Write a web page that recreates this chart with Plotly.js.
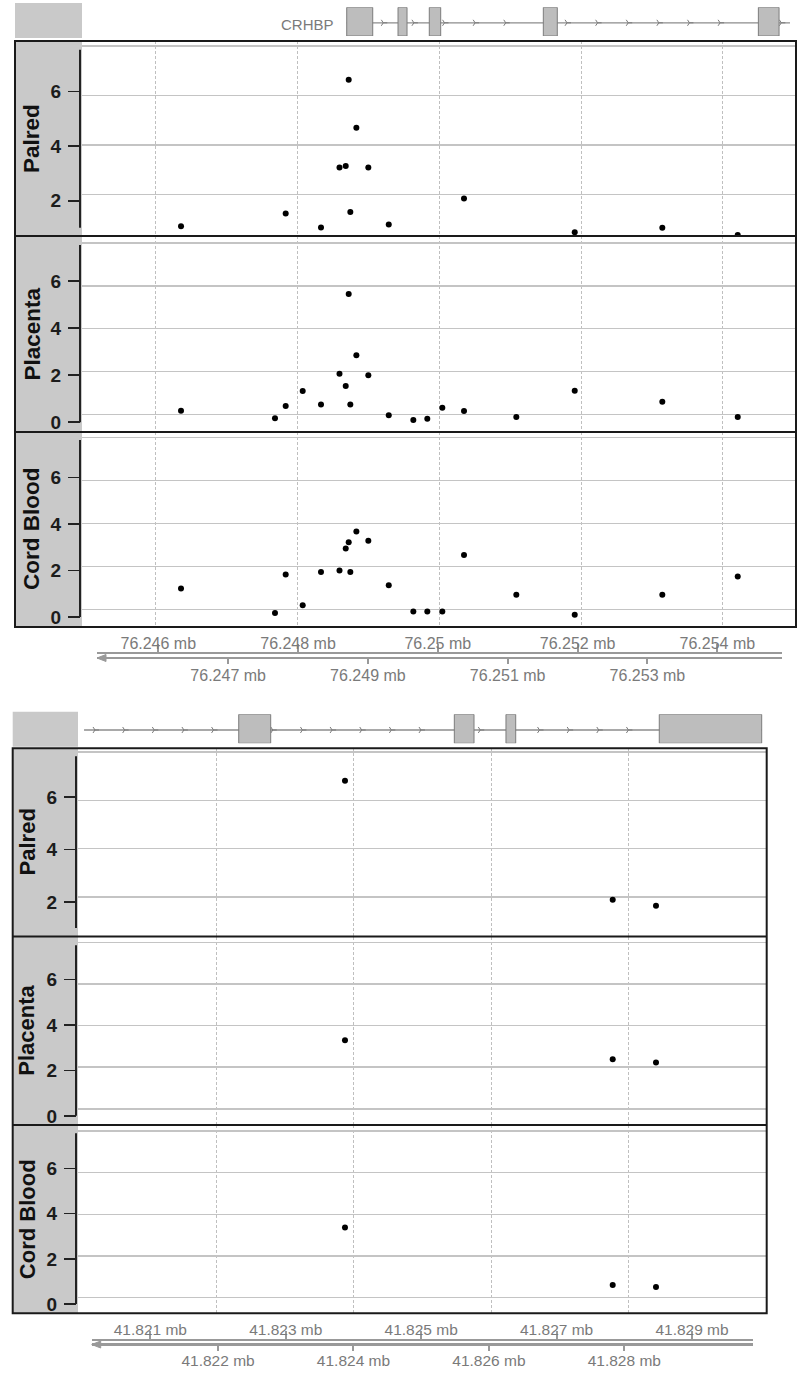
<!DOCTYPE html>
<html><head><meta charset="utf-8">
<script src="https://cdn.plot.ly/plotly-3.0.1.min.js"></script>
<style>html,body{margin:0;padding:0;background:#fff}#chart{width:800px;height:1384px}</style>
</head><body><div id="chart"></div>
<script>
// ---------------- DATA ----------------
const trackNames = ['Palred', 'Placenta', 'Cord Blood'];
const yTickVals = [0, 2, 4, 6];

// Region 1 (CRHBP, ~76.25 mb) — CpG positions (bp) and values
const geneName1 = 'CRHBP';
const cpgPos1 = [76246354, 76247680, 76247831, 76248071, 76248329, 76248590, 76248678, 76248720, 76248743, 76248828,
                 76248997, 76249285, 76249632, 76249829, 76250041, 76250347, 76251085, 76251909, 76253145, 76254209];
const palred1    = [1.07, null, 1.53, null, 1.02, 3.22, 3.27, 6.43, 1.59, 4.67,
                    3.22, 1.13, null, null, null, 2.08, null, 0.85, 1.01, 0.75];
const placenta1  = [0.49, 0.17, 0.69, 1.33, 0.76, 2.06, 1.54, 5.45, 0.76, 2.85,
                    2.00, 0.30, 0.10, 0.15, 0.62, 0.48, 0.23, 1.34, 0.87, 0.23];
const cordBlood1 = [1.22, 0.17, 1.82, 0.50, 1.93, 2.00, 2.94, 3.21, 1.93, 3.67,
                    3.27, 1.36, 0.23, 0.23, 0.23, 2.66, 0.96, 0.10, 0.96, 1.74];
const exonStart1 = [76248692, 76249416, 76249857, 76251466, 76254500];
const exonEnd1   = [76249059, 76249543, 76250018, 76251663, 76254792];
const transcript1 = [76248692, 76254947];
const axisTopVals1 = [76246000, 76248000, 76250000, 76252000, 76254000];
const axisTopText1 = ['76.246 mb', '76.248 mb', '76.25 mb', '76.252 mb', '76.254 mb'];
const axisBotVals1 = [76247000, 76249000, 76251000, 76253000];
const axisBotText1 = ['76.247 mb', '76.249 mb', '76.251 mb', '76.253 mb'];

// Region 2 (~41.825 mb)
const cpgPos2 = [41823870, 41827773, 41828404];
const palred2    = [6.62, 2.09, 1.86];
const placenta2  = [3.33, 2.49, 2.35];
const cordBlood2 = [3.39, 0.84, 0.76];
const exonStart2 = [41822321, 41825464, 41826217, 41828452];
const exonEnd2   = [41822787, 41825751, 41826359, 41829945];
const transcript2 = [41820066, 41829945];
const axisTopVals2 = [41821000, 41823000, 41825000, 41827000, 41829000];
const axisTopText2 = ['41.821 mb', '41.823 mb', '41.825 mb', '41.827 mb', '41.829 mb'];
const axisBotVals2 = [41822000, 41824000, 41826000, 41828000];
const axisBotText2 = ['41.822 mb', '41.824 mb', '41.826 mb', '41.828 mb'];

// ---------------- LAYOUT HELPERS ----------------
const W = 800, H = 1384;
const px = v => v / W;
const py = v => 1 - v / H;
const FONT = 'Liberation Sans, Arial, Helvetica, sans-serif';
const GRAY_PANEL = '#c9c9c9';

const panels = [
  {
    pos: cpgPos1, series: [palred1, placenta1, cordBlood1],
    exS: exonStart1, exE: exonEnd1, span: transcript1, gene: geneName1,
    box: [15, 796], plotX: [82, 795], yAxisX: 80, titleX: 31.5, titleSize: 22.5,
    tracks: [
      {top: 41, bot: 236, tick: [0.711, 7.847], grid: [0.317, 8.206], line: [1.01, 7.53]},
      {top: 236, bot: 432, tick: [-0.412, 7.911], grid: [-0.817, 8.321], line: [0, 7.53]},
      {top: 432, bot: 627, tick: [-0.431, 7.948], grid: [-0.809, 8.26], line: [0, 7.6]}
    ],
    xRange: [76244957, 76255017], gridVals: [76246000, 76248000, 76250000, 76252000, 76254000],
    geneBox: [3, 38], exonY: [7.3, 36], lineFrac: 0.46, chevPhase: 76249208,
    axis: {x0: 97, x1: 782, range: [76245123, 76254926], yTop: 654, yBot: 656.5, size: 16,
           topStand: -12, botStand: -2,
           topVals: axisTopVals1, topText: axisTopText1, botVals: axisBotVals1, botText: axisBotText1}
  },
  {
    pos: cpgPos2, series: [palred2, placenta2, cordBlood2],
    exS: exonStart2, exE: exonEnd2, span: transcript2, gene: null,
    box: [12.7, 766.7], plotX: [78, 766.5], yAxisX: 76, titleX: 27, titleSize: 22,
    tracks: [
      {top: 748.3, bot: 936.5, tick: [0.687, 7.856], grid: [0.347, 8.166], line: [1.01, 7.55]},
      {top: 936.5, bot: 1125, tick: [-0.402, 7.891], grid: [-0.777, 8.29], line: [0, 7.51]},
      {top: 1125, bot: 1313.3, tick: [-0.407, 7.917], grid: [-0.749, 8.287], line: [0, 7.55]}
    ],
    xRange: [41819978, 41830015], gridVals: [41822000, 41824000, 41826000, 41828000],
    geneBox: [711.7, 746.7], exonY: [714.3, 743.3], lineFrac: 0.459, chevPhase: 41820226,
    axis: {x0: 91.7, x1: 753.3, range: [41820134, 41829905], yTop: 1341.3, yBot: 1343, size: 15.5,
           topStand: -10, botStand: -3,
           topVals: axisTopVals2, topText: axisTopText2, botVals: axisBotVals2, botText: axisBotText2}
  }
];

const layout = {
  width: W, height: H, margin: {l: 0, r: 0, t: 0, b: 0},
  paper_bgcolor: '#ffffff', plot_bgcolor: 'rgba(0,0,0,0)', showlegend: false,
  font: {family: FONT}, shapes: [], annotations: [], hovermode: false
};
const traces = [];
let xi = 1, yi = 1;
const id = (p, i) => p + (i === 1 ? '' : i);
const key = (p, i) => p + 'axis' + (i === 1 ? '' : i);

panels.forEach(P => {
  const xD = xi++, xG = xi++, xA = xi++, xB = xi++;
  const firstY = yi;
  layout[key('x', xD)] = {
    domain: [px(P.plotX[0]), px(P.plotX[1])], range: P.xRange, anchor: id('y', firstY + 4),
    tickmode: 'array', tickvals: P.gridVals, showticklabels: false, ticks: '',
    showgrid: true, gridcolor: '#bfbfbf', gridwidth: 1, griddash: '3px,2px',
    showline: false, zeroline: false, fixedrange: true
  };

  P.tracks.forEach((T, i) => {
    const yT = yi++, yGr = yi++;
    layout[key('y', yT)] = {
      domain: [py(T.bot), py(T.top)], range: T.tick, anchor: 'free', position: px(P.yAxisX),
      tickmode: 'array', tickvals: yTickVals, ticks: 'outside', ticklen: 12, tickwidth: 1.6, tickcolor: '#222',
      tickfont: {size: 19, color: '#1c1c1c', family: FONT, weight: 'bold'}, ticklabelstandoff: 3,
      showgrid: false, zeroline: false, showline: false, fixedrange: true
    };
    layout[key('y', yGr)] = {
      overlaying: id('y', yT), anchor: id('x', xD), range: T.grid,
      tickmode: 'linear', tick0: 0, dtick: 2, showticklabels: false, ticks: '',
      showgrid: true, gridcolor: '#c4c4c4', gridwidth: 1.6, zeroline: false, showline: false, fixedrange: true
    };
    traces.push({type: 'scatter', x: [], y: [], xaxis: id('x', xD), yaxis: id('y', yGr), hoverinfo: 'skip'});
    traces.push({
      type: 'scatter', mode: 'markers', x: P.pos, y: P.series[i],
      xaxis: id('x', xD), yaxis: id('y', yT), marker: {color: '#000', size: 6}, hoverinfo: 'skip'
    });
    // gray title panel
    layout.shapes.push({type: 'rect', xref: 'paper', yref: 'paper', x0: px(P.box[0]), x1: px(P.plotX[0]),
      y0: py(T.bot), y1: py(T.top), fillcolor: GRAY_PANEL, line: {width: 0}, layer: 'below'});
    // y axis line
    layout.shapes.push({type: 'line', xref: 'paper', yref: id('y', yT), x0: px(P.yAxisX), x1: px(P.yAxisX),
      y0: T.line[0], y1: T.line[1], line: {color: '#222', width: 2}, layer: 'above'});
    // divider
    if (i > 0) {
      layout.shapes.push({type: 'line', xref: 'paper', yref: 'paper', x0: px(P.box[0]), x1: px(P.box[1]),
        y0: py(T.top), y1: py(T.top), line: {color: '#1a1a1a', width: 2}, layer: 'above'});
    }
    layout.annotations.push({xref: 'paper', yref: 'paper', x: px(P.titleX), y: py((T.top + T.bot) / 2),
      text: trackNames[i], textangle: -90, showarrow: false, xanchor: 'center', yanchor: 'middle',
      font: {size: P.titleSize, color: '#111', family: FONT, weight: 'bold'}});
  });
  // outer box
  layout.shapes.push({type: 'rect', xref: 'paper', yref: 'paper', x0: px(P.box[0]), x1: px(P.box[1]),
    y0: py(P.tracks[2].bot), y1: py(P.tracks[0].top), line: {color: '#1a1a1a', width: 2}, layer: 'above'});

  // gene track
  const yGn = yi++;
  layout[key('x', xG)] = {domain: [px(P.plotX[0]), px(P.plotX[1])], range: P.xRange, visible: false,
    anchor: id('y', yGn), fixedrange: true};
  layout[key('y', yGn)] = {domain: [py(P.exonY[1]), py(P.exonY[0])], range: [0, 1], visible: false,
    anchor: id('x', xG), fixedrange: true};
  layout.shapes.push({type: 'rect', xref: 'paper', yref: 'paper', x0: px(P.box[0]), x1: px(P.plotX[0]),
    y0: py(P.geneBox[1]), y1: py(P.geneBox[0]), fillcolor: GRAY_PANEL, line: {width: 0}, layer: 'below'});
  layout.shapes.push({type: 'line', xref: id('x', xG), yref: id('y', yGn), x0: P.span[0], x1: P.span[1],
    y0: P.lineFrac, y1: P.lineFrac, line: {color: '#8c8c8c', width: 1.3}, layer: 'below'});
  P.exS.forEach((s, k) => {
    layout.shapes.push({type: 'rect', xref: id('x', xG), yref: id('y', yGn), x0: s, x1: P.exE[k], y0: 0, y1: 1,
      fillcolor: '#bdbdbd', line: {color: '#7c7c7c', width: 1}, layer: 'above'});
  });
  // intron direction chevrons (decoration, regular spacing like Gviz)
  const step = 432, chevX = [];
  let start = P.chevPhase;
  while (start - step >= P.span[0]) start -= step;
  for (let c = start; c <= P.span[1]; c += step) {
    const inside = P.exS.some((s, k) => c > s - 115 && c < P.exE[k] + 20);
    if (!inside) chevX.push(c);
  }
  traces.push({type: 'scatter', mode: 'markers', x: chevX, y: chevX.map(() => P.lineFrac),
    xaxis: id('x', xG), yaxis: id('y', yGn), hoverinfo: 'skip',
    marker: {symbol: 'y-right', size: 5, color: '#7a7a7a', line: {color: '#7a7a7a', width: 1}}});
  if (P.gene) {
    layout.annotations.push({xref: id('x', xG), yref: 'paper', x: P.exS[0], y: py(24.5), xanchor: 'right',
      yanchor: 'middle', xshift: -11, text: P.gene, showarrow: false,
      font: {size: 15, color: '#7a7a7a', family: FONT}});
  }

  // genome axis track
  const A = P.axis;
  const yAx = yi++;
  layout[key('y', yAx)] = {domain: [py(A.yBot), py(A.yTop)], range: [0, 1], visible: false,
    anchor: id('x', xA), fixedrange: true};
  const axCommon = {domain: [px(A.x0), px(A.x1)], range: A.range, anchor: id('y', yAx),
    showline: true, linecolor: '#999', linewidth: 2.5, ticks: 'outside', tickwidth: 2, tickcolor: '#999',
    tickmode: 'array', showgrid: false, zeroline: false, fixedrange: true,
    tickfont: {size: A.size, color: '#7a7a7a', family: FONT}};
  layout[key('x', xA)] = Object.assign({}, axCommon, {side: 'top', ticklen: 8,
    tickvals: A.topVals, ticktext: A.topText, ticklabelstandoff: A.topStand});
  layout[key('x', xB)] = Object.assign({}, axCommon, {side: 'bottom', overlaying: id('x', xA), ticklen: 5,
    tickvals: A.botVals, ticktext: A.botText, ticklabelstandoff: A.botStand});
  traces.push({type: 'scatter', x: [], y: [], xaxis: id('x', xA), yaxis: id('y', yAx), hoverinfo: 'skip'});
  traces.push({type: 'scatter', x: [], y: [], xaxis: id('x', xB), yaxis: id('y', yAx), hoverinfo: 'skip'});
  // left arrow head of the axis
  const ax0 = px(A.x0), yc = py(A.yBot + 1.5);
  layout.shapes.push({type: 'path', xref: 'paper', yref: 'paper',
    path: `M ${ax0},${yc} L ${ax0 + px(9)},${yc + 3.5 / H} L ${ax0 + px(9)},${yc - 3.5 / H} Z`,
    fillcolor: '#999', line: {color: '#999', width: 1}, layer: 'above'});
});

Plotly.newPlot('chart', traces, layout, {staticPlot: true, displayModeBar: false});
</script>
</body></html>
